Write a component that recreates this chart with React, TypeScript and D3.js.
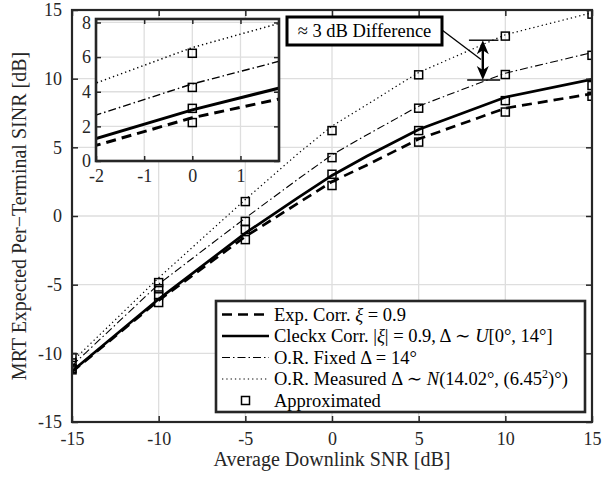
import React, { useEffect, useRef } from 'react';
import * as d3 from 'd3';

// SNR grid of the simulated curves and of the approximation markers
const snrCurve = [-15, -10, -5, -2, 0, 2, 5, 10, 15];
const expCorr = [-11.35, -6.15, -1.5, 0.9, 2.5, 3.7, 5.6, 7.85, 8.9];
const cleckxCorr = [-11.3, -6.05, -1.25, 1.3, 2.95, 4.35, 6.3, 8.65, 9.95];
const orFixed = [-10.9, -4.96, -0.15, 2.65, 4.45, 5.9, 8.0, 10.4, 11.9];
const orMeasured = [-10.6, -4.5, 1.2, 4.5, 6.55, 8.1, 10.45, 13.2, 14.8];

const snrMarks = [-15, -10, -5, 0, 5, 10, 15];
const expApprox = [-11.2, -6.3, -1.72, 2.22, 5.38, 7.57, 8.72];
const cleckxApprox = [-11.1, -5.75, -0.99, 3.04, 6.22, 8.4, 9.5];
const fixedApprox = [-10.7, -5.3, -0.39, 4.25, 7.85, 10.3, 11.7];
const measuredApprox = [-10.3, -4.85, 1.05, 6.22, 10.28, 13.1, 14.7];

const xTicks = [-15, -10, -5, 0, 5, 10, 15];
const yTicks = [-15, -10, -5, 0, 5, 10, 15];
const insetXTicks = [-2, -1, 0, 1];
const insetYTicks = [0, 2, 4, 6, 8];

const FONT = '"Liberation Serif", "DejaVu Serif", serif';
const plain = (d: any) => String(d);

function App() {
  const ref = useRef<SVGSVGElement>(null);

  useEffect(() => {
    const svg = d3.select(ref.current);
    svg.selectAll('*').remove();

    const width = 609;
    const height = 477;
    const margin = { top: 10, left: 72, bottom: 55, right: 17 };
    const iwidth = width - margin.left - margin.right;
    const iheight = height - margin.top - margin.bottom;

    const styles = [
      { name: 'exp', data: expCorr, approx: expApprox, width: 2.7, dash: '10,6' },
      { name: 'cleckx', data: cleckxCorr, approx: cleckxApprox, width: 2.7, dash: null },
      { name: 'fixed', data: orFixed, approx: fixedApprox, width: 1.1, dash: '8,3,1.5,3' },
      { name: 'measured', data: orMeasured, approx: measuredApprox, width: 1.2, dash: '1.3,3' },
    ];

    const defs = svg.append('defs');
    defs.append('clipPath').attr('id', 'mainClip')
      .append('rect').attr('width', iwidth).attr('height', iheight);

    const g = svg.append('g').attr('transform', `translate(${margin.left},${margin.top})`);

    const x = d3.scaleLinear().domain([-15, 15]).range([0, iwidth]);
    const y = d3.scaleLinear().domain([-15, 15]).range([iheight, 0]);

    // grid
    g.append('g').selectAll('line').data(xTicks.slice(1, -1)).enter().append('line')
      .attr('x1', d => x(d)).attr('x2', d => x(d)).attr('y1', 0).attr('y2', iheight)
      .attr('stroke', '#dedede').attr('stroke-width', 1.3);
    g.append('g').selectAll('line').data(yTicks.slice(1, -1)).enter().append('line')
      .attr('y1', d => y(d)).attr('y2', d => y(d)).attr('x1', 0).attr('x2', iwidth)
      .attr('stroke', '#dedede').attr('stroke-width', 1.3);

    // curves
    const plot = g.append('g').attr('clip-path', 'url(#mainClip)');
    styles.forEach(s => {
      const line = d3.line<number>().x((d, i) => x(snrCurve[i])).y(d => y(d));
      plot.append('path').datum(s.data)
        .attr('d', line)
        .attr('fill', 'none').attr('stroke', '#000')
        .attr('stroke-width', s.width)
        .attr('stroke-dasharray', s.dash);
    });
    styles.forEach(s => {
      plot.append('g').selectAll('rect').data(s.approx).enter().append('rect')
        .attr('x', (d, i) => x(snrMarks[i]) - 4).attr('y', d => y(d) - 4)
        .attr('width', 8).attr('height', 8)
        .attr('fill', 'none').attr('stroke', '#000').attr('stroke-width', 1.5);
    });

    // axes
    const bottom = g.append('g').attr('transform', `translate(0,${iheight})`)
      .call(d3.axisBottom(x).tickValues(xTicks).tickSize(-6).tickPadding(10).tickFormat(plain));
    const top = g.append('g')
      .call(d3.axisTop(x).tickValues(xTicks).tickSize(-6).tickFormat(() => ''));
    const left = g.append('g')
      .call(d3.axisLeft(y).tickValues(yTicks).tickSize(-6).tickPadding(10).tickFormat(plain));
    const right = g.append('g').attr('transform', `translate(${iwidth},0)`)
      .call(d3.axisRight(y).tickValues(yTicks).tickSize(-6).tickFormat(() => ''));
    [bottom, top, left, right].forEach(a => {
      a.select('.domain').remove();
      a.selectAll('line').attr('stroke', '#262626').attr('stroke-width', 1.5);
      a.selectAll('text').attr('font-family', FONT).attr('font-size', 18).attr('fill', '#262626');
    });
    g.append('rect').attr('width', iwidth).attr('height', iheight)
      .attr('fill', 'none').attr('stroke', '#262626').attr('stroke-width', 2.2);

    // axis titles
    svg.append('text')
      .attr('x', margin.left + iwidth / 2).attr('y', 466)
      .attr('text-anchor', 'middle').attr('font-family', FONT).attr('font-size', 20)
      .attr('fill', '#262626').text('Average Downlink SNR [dB]');
    svg.append('text')
      .attr('transform', `translate(26,${margin.top + iheight / 2}) rotate(-90)`)
      .attr('text-anchor', 'middle').attr('font-family', FONT).attr('font-size', 20)
      .attr('fill', '#262626').text('MRT Expected Per\u2212Terminal SINR [dB]');

    // annotation: ≈ 3 dB difference
    const arrowX = x(8.7);
    const yHi = y(12.8);
    const yLo = y(9.9);
    const ann = g.append('g');
    ann.append('line').attr('x1', x(7.9)).attr('x2', x(9.6)).attr('y1', yHi).attr('y2', yHi)
      .attr('stroke', '#000').attr('stroke-width', 1.4);
    ann.append('line').attr('x1', x(7.8)).attr('x2', x(9.7)).attr('y1', yLo).attr('y2', yLo)
      .attr('stroke', '#000').attr('stroke-width', 1.4);
    ann.append('line').attr('x1', arrowX).attr('x2', arrowX).attr('y1', yHi + 8).attr('y2', yLo - 8)
      .attr('stroke', '#000').attr('stroke-width', 2.4);
    ann.append('path')
      .attr('d', `M${arrowX},${yHi} L${arrowX - 6},${yHi + 14} L${arrowX},${yHi + 10} L${arrowX + 6},${yHi + 14} Z`)
      .attr('fill', '#000');
    ann.append('path')
      .attr('d', `M${arrowX},${yLo} L${arrowX - 6},${yLo - 14} L${arrowX},${yLo - 10} L${arrowX + 6},${yLo - 14} Z`)
      .attr('fill', '#000');
    const boxL = 287 - margin.left, boxT = 17 - margin.top, boxW = 155, boxH = 28;
    ann.append('line').attr('x1', boxL + boxW).attr('y1', boxT + boxH / 2 - 1)
      .attr('x2', x(8.6)).attr('y2', y(11.4))
      .attr('stroke', '#000').attr('stroke-width', 1.3);
    ann.append('rect').attr('x', boxL).attr('y', boxT).attr('width', boxW).attr('height', boxH)
      .attr('fill', '#fff').attr('stroke', '#000').attr('stroke-width', 3);
    ann.append('text').attr('x', boxL + boxW / 2).attr('y', boxT + 20)
      .attr('text-anchor', 'middle').attr('font-family', FONT).attr('font-size', 18.5)
      .text('\u2248 3 dB Difference');

    // inset zoom
    const ix0 = 96 - margin.left, iy0 = 19 - margin.top, iw = 183, ih = 142;
    const xi = d3.scaleLinear().domain([-2, 1.8]).range([0, iw]);
    const yi = d3.scaleLinear().domain([0, 8.2]).range([ih, 0]);
    defs.append('clipPath').attr('id', 'insetClip')
      .append('rect').attr('width', iw).attr('height', ih);
    const ig = g.append('g').attr('transform', `translate(${ix0},${iy0})`);
    ig.append('rect').attr('width', iw).attr('height', ih).attr('fill', '#fff');
    ig.append('g').selectAll('line').data(insetXTicks.slice(1)).enter().append('line')
      .attr('x1', d => xi(d)).attr('x2', d => xi(d)).attr('y1', 0).attr('y2', ih)
      .attr('stroke', '#dedede').attr('stroke-width', 1.3);
    ig.append('g').selectAll('line').data(insetYTicks.slice(1)).enter().append('line')
      .attr('y1', d => yi(d)).attr('y2', d => yi(d)).attr('x1', 0).attr('x2', iw)
      .attr('stroke', '#dedede').attr('stroke-width', 1.3);
    const iplot = ig.append('g').attr('clip-path', 'url(#insetClip)');
    styles.forEach(s => {
      const line = d3.line<number>().x((d, i) => xi(snrCurve[i])).y(d => yi(d));
      iplot.append('path').datum(s.data)
        .attr('d', line)
        .attr('fill', 'none').attr('stroke', '#000')
        .attr('stroke-width', s.width + 0.3)
        .attr('stroke-dasharray', s.dash);
    });
    styles.forEach(s => {
      iplot.append('g').selectAll('rect').data(s.approx).enter().append('rect')
        .attr('x', (d, i) => xi(snrMarks[i]) - 4).attr('y', d => yi(d) - 4)
        .attr('width', 8).attr('height', 8)
        .attr('fill', 'none').attr('stroke', '#000').attr('stroke-width', 1.5);
    });
    const ib = ig.append('g').attr('transform', `translate(0,${ih})`)
      .call(d3.axisBottom(xi).tickValues(insetXTicks).tickSize(-5).tickPadding(8).tickFormat(plain));
    const it = ig.append('g')
      .call(d3.axisTop(xi).tickValues(insetXTicks).tickSize(-5).tickFormat(() => ''));
    const il = ig.append('g')
      .call(d3.axisLeft(yi).tickValues(insetYTicks).tickSize(-5).tickPadding(5).tickFormat(plain));
    const ir = ig.append('g').attr('transform', `translate(${iw},0)`)
      .call(d3.axisRight(yi).tickValues(insetYTicks).tickSize(-5).tickFormat(() => ''));
    [ib, it, il, ir].forEach(a => {
      a.select('.domain').remove();
      a.selectAll('line').attr('stroke', '#262626').attr('stroke-width', 1.5);
      a.selectAll('text').attr('font-family', FONT).attr('font-size', 18).attr('fill', '#262626');
    });
    ig.append('rect').attr('width', iw).attr('height', ih)
      .attr('fill', 'none').attr('stroke', '#262626').attr('stroke-width', 2.6);

    // legend
    const lx = 216 - margin.left, ly = 301 - margin.top, lw = 369, lh = 111;
    const lg = g.append('g').attr('transform', `translate(${lx},${ly})`);
    lg.append('rect').attr('width', lw).attr('height', lh)
      .attr('fill', '#fff').attr('stroke', '#262626').attr('stroke-width', 2.6);
    const rowY = (i: number) => 13.5 + i * 21.5;
    styles.forEach((s, i) => {
      lg.append('line').attr('x1', 6).attr('x2', 53).attr('y1', rowY(i)).attr('y2', rowY(i))
        .attr('stroke', '#000').attr('stroke-width', s.width).attr('stroke-dasharray', s.dash);
    });
    lg.append('rect').attr('x', 25.5).attr('y', rowY(4) - 4).attr('width', 8).attr('height', 8)
      .attr('fill', 'none').attr('stroke', '#000').attr('stroke-width', 1.5);

    const labels: [string, boolean][][] = [
      [['Exp. Corr. ', false], ['\u03BE', true], [' = 0.9', false]],
      [['Cleckx Corr. |', false], ['\u03BE', true], ['| = 0.9, \u0394 \u223C ', false], ['U', true], ['[0\u00B0, 14\u00B0]', false]],
      [['O.R. Fixed \u0394 = 14\u00B0', false]],
      [['O.R. Measured \u0394 \u223C ', false], ['N', true], ['(14.02\u00B0, (6.45', false], ['2', false], [')\u00B0)', false]],
      [['Approximated', false]],
    ];
    labels.forEach((parts, i) => {
      const t = lg.append('text').attr('x', 58).attr('y', rowY(i) + 6)
        .attr('font-family', FONT).attr('font-size', 18.5).attr('fill', '#000');
      parts.forEach(([txt, ital], k) => {
        const sp = t.append('tspan').text(txt);
        if (ital) sp.attr('font-style', 'italic');
        if (i === 3 && k === 3) sp.attr('font-size', 12).attr('dy', -7);
        if (i === 3 && k === 4) sp.attr('dy', 7);
      });
    });
  }, []);

  return (
    <svg ref={ref} width={609} height={477}
      style={{ position: 'absolute', left: 0, top: 0, background: '#fff' }} />
  );
}

export default App;
